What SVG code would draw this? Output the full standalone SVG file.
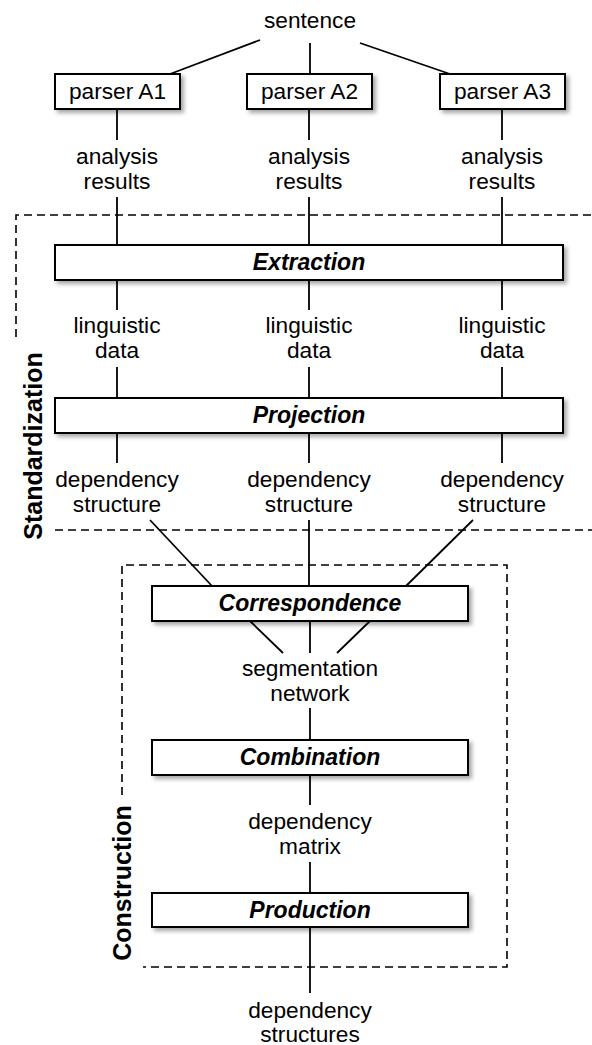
<svg xmlns="http://www.w3.org/2000/svg" width="592" height="1045" viewBox="0 0 592 1045">
<defs>
<filter id="sh" x="-10%" y="-30%" width="120%" height="180%">
<feDropShadow dx="3" dy="3" stdDeviation="2" flood-color="#000" flood-opacity="0.35"/>
</filter>
<style>
.box{fill:#fff;stroke:#000;stroke-width:2;filter:url(#sh)}
.t{font-family:"Liberation Sans",Arial,sans-serif;font-size:22.7px;fill:#000;text-anchor:middle}
.b{font-family:"Liberation Sans",Arial,sans-serif;font-size:23px;font-weight:bold;font-style:italic;fill:#000;text-anchor:middle}
.g{font-family:"Liberation Sans",Arial,sans-serif;font-size:25px;font-weight:bold;fill:#000;text-anchor:middle}
.ln{stroke:#000;stroke-width:1.8;fill:none}
.dash{stroke:#000;stroke-width:1.6;fill:none;stroke-dasharray:8,5}
</style>
</defs>
<rect width="592" height="1045" fill="#fff"/>
<g id="groups">
<path class="dash" d="M16,337 V215 H592"/>
<path class="dash" d="M55,530 H592"/>
<text class="g" transform="translate(42,446) rotate(-90)">Standardization</text>
<path class="dash" d="M122,795 V565 H507 V967 H143"/>
<text class="g" transform="translate(131,883) rotate(-90)">Construction</text>
</g>
<g id="connectors">
<line class="ln" x1="260" y1="40" x2="170" y2="74"/>
<line class="ln" x1="310" y1="43" x2="310" y2="74"/>
<line class="ln" x1="360" y1="43" x2="450" y2="74"/>
<line class="ln" x1="117" y1="109" x2="117" y2="140"/>
<line class="ln" x1="309" y1="109" x2="309" y2="140"/>
<line class="ln" x1="502" y1="109" x2="502" y2="140"/>
<line class="ln" x1="117" y1="197" x2="117" y2="245"/>
<line class="ln" x1="309" y1="197" x2="309" y2="245"/>
<line class="ln" x1="502" y1="197" x2="502" y2="245"/>
<line class="ln" x1="117" y1="280" x2="117" y2="310"/>
<line class="ln" x1="309" y1="280" x2="309" y2="310"/>
<line class="ln" x1="502" y1="280" x2="502" y2="310"/>
<line class="ln" x1="117" y1="367" x2="117" y2="398"/>
<line class="ln" x1="309" y1="367" x2="309" y2="398"/>
<line class="ln" x1="502" y1="367" x2="502" y2="398"/>
<line class="ln" x1="117" y1="433" x2="117" y2="463"/>
<line class="ln" x1="309" y1="433" x2="309" y2="463"/>
<line class="ln" x1="502" y1="433" x2="502" y2="463"/>
<line class="ln" x1="150" y1="520" x2="212" y2="586"/>
<line class="ln" x1="309" y1="520" x2="309" y2="586"/>
<line class="ln" x1="473" y1="520" x2="406" y2="586"/>
<line class="ln" x1="250" y1="621" x2="283" y2="653"/>
<line class="ln" x1="310" y1="621" x2="310" y2="653"/>
<line class="ln" x1="370" y1="621" x2="337" y2="653"/>
<line class="ln" x1="310" y1="708" x2="310" y2="740"/>
<line class="ln" x1="310" y1="775" x2="310" y2="805"/>
<line class="ln" x1="310" y1="862" x2="310" y2="893"/>
<line class="ln" x1="310" y1="927" x2="310" y2="993"/>
</g>
<g id="sentence"><text class="t" x="310" y="28">sentence</text></g>
<g id="parserA1"><rect class="box" x="55" y="74" width="125" height="35"/><text class="t" x="117.5" y="99">parser A1</text></g>
<g id="parserA2"><rect class="box" x="247" y="74" width="125" height="35"/><text class="t" x="309.5" y="99">parser A2</text></g>
<g id="parserA3"><rect class="box" x="440" y="74" width="125" height="35"/><text class="t" x="502.5" y="99">parser A3</text></g>
<g id="analysis1"><text class="t" x="117" y="164">analysis</text><text class="t" x="117" y="189">results</text></g>
<g id="analysis2"><text class="t" x="309" y="164">analysis</text><text class="t" x="309" y="189">results</text></g>
<g id="analysis3"><text class="t" x="502" y="164">analysis</text><text class="t" x="502" y="189">results</text></g>
<g id="extraction"><rect class="box" x="55" y="245" width="508" height="35"/><text class="b" x="309" y="270">Extraction</text></g>
<g id="ling1"><text class="t" x="117" y="333">linguistic</text><text class="t" x="117" y="358">data</text></g>
<g id="ling2"><text class="t" x="309" y="333">linguistic</text><text class="t" x="309" y="358">data</text></g>
<g id="ling3"><text class="t" x="502" y="333">linguistic</text><text class="t" x="502" y="358">data</text></g>
<g id="projection"><rect class="box" x="55" y="398" width="508" height="35"/><text class="b" x="309" y="423">Projection</text></g>
<g id="dep1"><text class="t" x="117" y="487">dependency</text><text class="t" x="117" y="512">structure</text></g>
<g id="dep2"><text class="t" x="309" y="487">dependency</text><text class="t" x="309" y="512">structure</text></g>
<g id="dep3"><text class="t" x="502" y="487">dependency</text><text class="t" x="502" y="512">structure</text></g>
<g id="correspondence"><rect class="box" x="152" y="586" width="316" height="35"/><text class="b" x="310" y="611">Correspondence</text></g>
<g id="segnet"><text class="t" x="310" y="676">segmentation</text><text class="t" x="310" y="701">network</text></g>
<g id="combination"><rect class="box" x="152" y="740" width="316" height="35"/><text class="b" x="310" y="765">Combination</text></g>
<g id="depmatrix"><text class="t" x="310" y="829">dependency</text><text class="t" x="310" y="854">matrix</text></g>
<g id="production"><rect class="box" x="152" y="893" width="316" height="34"/><text class="b" x="310" y="918">Production</text></g>
<g id="depstructs"><text class="t" x="310" y="1018">dependency</text><text class="t" x="310" y="1042">structures</text></g>
</svg>
